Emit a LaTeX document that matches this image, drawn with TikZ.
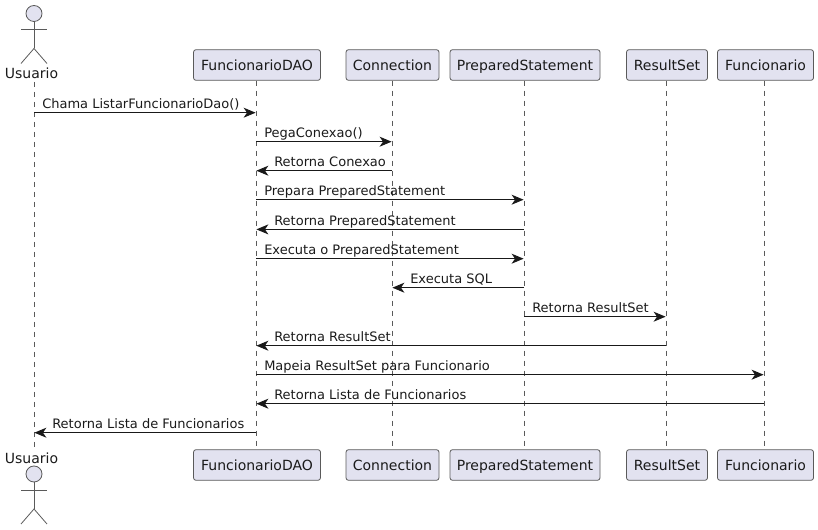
\documentclass[tikz,border=0pt]{standalone}
\usepackage{fontspec}
\setmainfont{DejaVu Sans}
\usetikzlibrary{arrows.meta}
\definecolor{partfill}{HTML}{E2E2F0}
\definecolor{partline}{HTML}{5A5A5A}
\definecolor{txt}{HTML}{1A1A1A}
\tikzset{
  x=0.75pt,y=-0.75pt,
  part/.style={draw=partline,fill=partfill,rounded corners=1.9pt,line width=0.6pt,minimum height=23pt,inner sep=0pt,text=txt,text height=9.3pt,text depth=1.7pt,font=\fontsize{10.5pt}{12pt}\selectfont},
  actorname/.style={inner sep=0pt,text=txt,font=\fontsize{10.5pt}{12pt}\selectfont},
  actorline/.style={draw=partline,line width=0.6pt},
  life/.style={draw=partline,line width=0.6pt,dash pattern=on 3.75pt off 3.75pt},
  msg/.style={draw=black!90,line width=0.75pt,-{Stealth[length=9pt,width=7.5pt,inset=2.6pt]},shorten >=0.3pt},
  lab/.style={anchor=base west,inner sep=0pt,text=txt,font=\fontsize{9.75pt}{12pt}\selectfont},
}
\newcommand{\actorfig}[1]{% head centre y
  \draw[actorline,fill=partfill] (34,#1) circle[radius=6pt];
  \draw[actorline] (34,#1+8) -- (34,#1+35);
  \draw[actorline] (21,#1+16) -- (47,#1+16);
  \draw[actorline] (21,#1+50) -- (34,#1+35) -- (47,#1+50);
}
\begin{document}
\begin{tikzpicture}
\useasboundingbox (0,0) rectangle (818,530);
\actorfig{13.5}
\actorfig{474}
\node[actorname] (ut) at (31.5,73) {Usuario};
\node[actorname] (ub) at (31.5,458) {Usuario};
\foreach \n/\t/\xa/\w in {dao/FuncionarioDAO/257/127,con/Connection/392.5/93,pre/PreparedStatement/525/150,res/ResultSet/667/81,fun/Funcionario/765.5/96}{
  \node[part,minimum width=\w*0.75pt] (\n t) at (\xa,65) {\t};
  \node[part,minimum width=\w*0.75pt] (\n b) at (\xa,465) {\t};
}
\coordinate (uta) at (34,82);
\coordinate (uba) at (34,448);
\draw[life] (uta) -- (uba);
\foreach \n/\xx in {dao/256,con/392,pre/524,res/666,fun/764}{
  \draw[life] (\xx,0 |- \n t.south) -- (\xx,0 |- \n b.north);
}
\coordinate (L1) at (34,0);
\coordinate (L2) at (256,0);
\coordinate (L3) at (392,0);
\coordinate (L4) at (524,0);
\coordinate (L5) at (666,0);
\coordinate (L6) at (764,0);
\foreach \a/\b/\y/\tx/\off in {
  1/2/112.7/{Chama ListarFuncionarioDao()}/8,
  2/3/141.7/{PegaConexao()}/8,
  3/2/170.7/{Retorna Conexao}/18,
  2/4/199.7/{Prepara PreparedStatement}/8,
  4/2/229.4/{Retorna PreparedStatement}/18,
  2/4/258.7/{Executa o PreparedStatement}/8,
  4/3/287.7/{Executa SQL}/18,
  4/5/316.7/{Retorna ResultSet}/8,
  5/2/345.7/{Retorna ResultSet}/18,
  2/6/374.7/{Mapeia ResultSet para Funcionario}/8,
  6/2/403.7/{Retorna Lista de Funcionarios}/18,
  2/1/432.7/{Retorna Lista de Funcionarios}/18}{
  \coordinate (s) at (L\a |- 0,\y);
  \coordinate (e) at (L\b |- 0,\y);
  \draw[msg] (s) -- (e);
  \ifnum\a<\b
    \node[lab] at ([xshift=\off*0.75pt,yshift=2.8pt]s) {\tx};
  \else
    \node[lab] at ([xshift=\off*0.75pt,yshift=2.8pt]e) {\tx};
  \fi
}
\end{tikzpicture}
\end{document}
